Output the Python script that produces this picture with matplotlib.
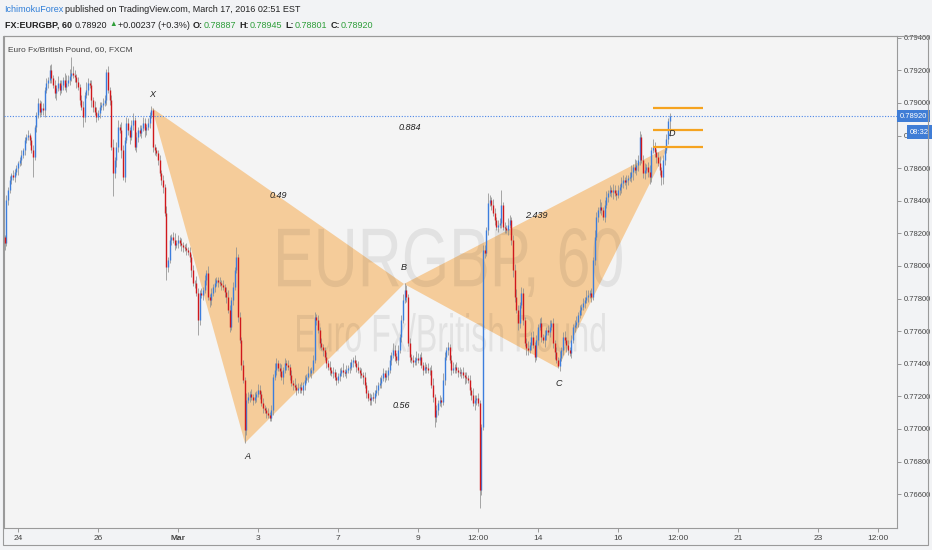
import matplotlib
matplotlib.use("Agg")
import matplotlib.pyplot as plt
import numpy as np
from matplotlib.patches import Polygon, Rectangle, PathPatch
from matplotlib.textpath import TextPath
from matplotlib.font_manager import FontProperties
from matplotlib.transforms import Affine2D
from matplotlib.ticker import FormatStrFormatter

plt.rcParams['font.family'] = ['Liberation Sans', 'DejaVu Sans']

W, H = 932, 550

# hourly bars, t = trading hours since Feb 24 00:00
first_bar = -8
first_open = 78180   # 1e-5 units
closes = [
    78141, 78405, 78466, 78530, 78560, 78545, 78577, 78600, 78632, 78650, 78680, 78712, 78773, 78791, 78804, 78773, 78712, 78669, 78853, 78926,
    79000, 78945, 78970, 78957, 79080, 79123, 79141, 79202, 79153, 79110, 79061, 79092, 79123, 79080, 79110, 79141, 79098, 79123, 79141, 79166,
    79184, 79172, 79160, 79129, 79098, 79018, 78975, 78914, 79049, 79080, 79123, 79110, 79018, 78975, 78945, 78914, 78939, 78975, 78988, 79000,
    79018, 79190, 79080, 79018, 78730, 78571, 78650, 78730, 78853, 78834, 78712, 78546, 78773, 78877, 78834, 78791, 78865, 78896, 78730, 78791,
    78834, 78816, 78847, 78877, 78834, 78853, 78877, 78926, 78960, 78730, 78712, 78693, 78650, 78571, 78528, 78485, 78325, 77994, 78037, 78160,
    78178, 78160, 78129, 78141, 78160, 78141, 78129, 78117, 78110, 78098, 78086, 78055, 77975, 77896, 77896, 77834, 77669, 77834, 77822, 77853,
    77914, 77957, 77810, 77791, 77834, 77871, 77896, 77914, 77902, 77896, 77883, 77871, 77840, 77810, 77730, 77626, 77791, 77871, 77975, 78055,
    77687, 77546, 77393, 77301, 76994, 77178, 77196, 77215, 77196, 77178, 77196, 77215, 77239, 77215, 77159, 77129, 77117, 77098, 77086, 77067,
    77117, 77319, 77362, 77405, 77374, 77356, 77319, 77362, 77405, 77393, 77380, 77331, 77282, 77270, 77258, 77239, 77252, 77258, 77239, 77270,
    77301, 77319, 77344, 77344, 77362, 77423, 77687, 77669, 77607, 77528, 77503, 77485, 77442, 77405, 77380, 77362, 77344, 77350, 77319, 77301,
    77325, 77344, 77362, 77350, 77344, 77362, 77374, 77380, 77411, 77423, 77405, 77380, 77362, 77344, 77331, 77319, 77270, 77221, 77190, 77178,
    77196, 77190, 77221, 77239, 77270, 77282, 77313, 77344, 77319, 77331, 77362, 77423, 77454, 77485, 77448, 77423, 77485, 77564, 77669, 77791,
    77853, 77810, 77528, 77442, 77423, 77411, 77423, 77436, 77423, 77442, 77393, 77362, 77380, 77374, 77362, 77362, 77270, 77196, 77074, 77117,
    77159, 77178, 77166, 77301, 77442, 77485, 77503, 77423, 77362, 77374, 77380, 77362, 77350, 77344, 77350, 77331, 77319, 77313, 77301, 77239,
    77209, 77159, 77178, 77190, 77159, 76626, 77012, 78098, 78080, 78221, 78387, 78405, 78374, 78325, 78282, 78239, 78252, 78264, 78374, 78239,
    78233, 78221, 78252, 78282, 78160, 77975, 77810, 77730, 77650, 77761, 77834, 77669, 77528, 77497, 77485, 77515, 77564, 77515, 77442, 77546,
    77626, 77650, 77564, 77546, 77577, 77607, 77595, 77626, 77650, 77528, 77472, 77423, 77386, 77436, 77485, 77564, 77546, 77515, 77485, 77466,
    77546, 77626, 77638, 77656, 77699, 77730, 77748, 77773, 77791, 77810, 77822, 77834, 77810, 78037, 78178, 78301, 78344, 78362, 78344, 78301,
    78374, 78423, 78448, 78466, 78454, 78466, 78448, 78436, 78466, 78485, 78509, 78528, 78515, 78528, 78540, 78546, 78577, 78607, 78589, 78620,
    78650, 78791, 78650, 78571, 78589, 78607, 78577, 78546, 78712, 78730, 78699, 78669, 78632, 78589, 78546, 78650, 78712, 78780, 78887, 78920,
]
# wick length above / below the body, in pips
wick_up = [
    1, 3, 2, 2, 1, 3, 2, 2, 1, 2, 3, 1, 2, 2, 3, 1, 2, 3, 1, 2,
    3, 2, 4, 3, 2, 3, 2, 3, 4, 2, 3, 2, 4, 2, 3, 2, 4, 5, 3, 4,
    10, 4, 3, 2, 3, 2, 3, 4, 2, 5, 3, 2, 3, 2, 4, 3, 2, 3, 2, 3,
    3, 2, 4, 2, 3, 5, 2, 3, 4, 2, 5, 3, 2, 4, 3, 2, 3, 4, 2, 3,
    2, 3, 2, 4, 3, 2, 3, 2, 2, 1, 2, 2, 2, 3, 2, 3, 2, 4, 2, 3,
    2, 3, 4, 2, 3, 2, 3, 2, 2, 3, 2, 3, 2, 3, 2, 4, 3, 2, 3, 2,
    3, 2, 4, 2, 3, 2, 3, 2, 2, 3, 2, 3, 2, 3, 4, 3, 2, 3, 2, 6,
    2, 3, 2, 3, 2, 4, 3, 2, 3, 2, 3, 2, 4, 3, 2, 3, 2, 2, 3, 2,
    3, 2, 4, 3, 2, 3, 4, 2, 3, 2, 3, 2, 3, 2, 4, 2, 3, 2, 3, 2,
    3, 2, 4, 3, 2, 3, 3, 2, 3, 2, 3, 2, 2, 3, 2, 4, 2, 3, 2, 3,
    2, 3, 2, 4, 2, 3, 2, 3, 2, 2, 3, 2, 4, 2, 3, 2, 3, 2, 2, 3,
    2, 3, 2, 3, 2, 4, 2, 3, 2, 3, 2, 3, 2, 4, 3, 2, 3, 2, 3, 4,
    4, 3, 2, 3, 2, 3, 2, 4, 3, 2, 3, 2, 3, 2, 3, 2, 3, 4, 2, 3,
    2, 3, 2, 4, 3, 2, 3, 2, 3, 4, 2, 3, 2, 3, 2, 3, 2, 3, 2, 3,
    2, 4, 3, 2, 3, 2, 2, 3, 3, 2, 6, 3, 2, 4, 3, 2, 3, 3, 9, 2,
    3, 2, 4, 3, 2, 3, 4, 5, 3, 2, 4, 3, 2, 3, 4, 2, 3, 4, 2, 3,
    2, 3, 4, 2, 3, 2, 3, 4, 2, 3, 2, 3, 2, 4, 2, 3, 4, 2, 3, 2,
    3, 2, 3, 4, 2, 3, 2, 3, 2, 4, 3, 2, 3, 2, 4, 3, 2, 5, 3, 2,
    3, 4, 2, 3, 2, 4, 3, 2, 3, 2, 4, 3, 2, 3, 2, 3, 4, 2, 5, 3,
    3, 4, 2, 3, 4, 2, 3, 4, 2, 5, 3, 2, 3, 4, 2, 3, 2, 3, 2, 2,
]
wick_dn = [
    4, 2, 3, 2, 3, 2, 3, 2, 4, 2, 3, 2, 3, 2, 2, 3, 2, 12, 2, 3,
    2, 3, 2, 3, 4, 2, 3, 2, 3, 2, 3, 4, 2, 3, 2, 3, 2, 3, 2, 3,
    3, 2, 3, 4, 2, 3, 2, 6, 3, 2, 3, 2, 4, 3, 2, 3, 2, 3, 2, 3,
    2, 3, 2, 3, 2, 14, 3, 4, 3, 2, 5, 2, 3, 2, 3, 4, 2, 3, 2, 3,
    3, 2, 3, 2, 4, 3, 2, 3, 2, 3, 3, 2, 3, 2, 3, 4, 2, 8, 3, 2,
    3, 2, 3, 2, 3, 2, 4, 3, 2, 3, 2, 3, 4, 2, 3, 2, 9, 3, 2, 3,
    2, 3, 2, 4, 3, 2, 3, 2, 3, 2, 3, 2, 3, 4, 2, 3, 2, 3, 2, 2,
    3, 2, 3, 2, 8, 3, 2, 3, 2, 3, 2, 3, 2, 3, 2, 3, 2, 3, 2, 2,
    2, 3, 2, 3, 2, 3, 2, 4, 2, 3, 2, 3, 2, 3, 2, 3, 2, 3, 2, 3,
    3, 2, 3, 2, 3, 2, 2, 3, 2, 3, 2, 4, 2, 3, 2, 3, 2, 3, 2, 3,
    2, 3, 2, 3, 2, 3, 2, 3, 2, 3, 2, 3, 2, 3, 2, 4, 2, 3, 2, 3,
    3, 2, 3, 2, 3, 2, 3, 2, 3, 2, 3, 2, 3, 2, 3, 2, 3, 2, 3, 2,
    2, 3, 2, 3, 2, 3, 2, 3, 2, 3, 2, 3, 2, 3, 2, 3, 2, 3, 6, 3,
    3, 2, 3, 2, 3, 2, 3, 2, 3, 2, 3, 2, 3, 2, 3, 2, 4, 3, 2, 3,
    3, 2, 4, 3, 2, 11, 3, 2, 3, 2, 3, 2, 3, 2, 3, 2, 3, 2, 3, 2,
    3, 2, 3, 2, 3, 4, 3, 2, 4, 3, 2, 3, 2, 4, 3, 2, 3, 2, 3, 2,
    3, 2, 3, 2, 4, 3, 2, 3, 2, 3, 4, 2, 1, 3, 2, 3, 2, 4, 3, 2,
    3, 2, 3, 2, 3, 2, 3, 2, 3, 2, 3, 2, 3, 2, 3, 2, 3, 2, 3, 2,
    3, 2, 3, 2, 3, 4, 2, 3, 2, 3, 4, 3, 2, 4, 3, 2, 3, 5, 2, 3,
    4, 3, 2, 3, 4, 2, 3, 4, 3, 2, 3, 4, 2, 3, 5, 4, 3, 2, 3, 9,
]

# harmonic pattern points (bar index, price)
pattern_names = ['X', 'A', 'B', 'C', 'D']
pattern_t = [80.4, 136.2, 231.6, 324.0, 390.0]
pattern_price = [0.78969, 0.76914, 0.77890, 0.77374, 0.78730]
ratio_legs = [(0, 2), (1, 3), (2, 4), (0, 4)]
ratio_text = ['0.49', '0.56', '2.439', '0.884']
prz_levels = [0.78969, 0.78834, 0.78730]
prz_t = (381, 411)

last_price = 0.78920
countdown = '08:32'

tick_t = [0, 48, 96, 144, 192, 240, 276, 312, 360, 396, 432, 480, 516]
tick_lab = ['24', '26', 'Mar', '3', '7', '9', '12:00', '14', '16', '12:00', '21', '23', '12:00']
price_ticks = [0.766, 0.768, 0.770, 0.772, 0.774, 0.776, 0.778, 0.780,
               0.782, 0.784, 0.786, 0.788, 0.790, 0.792, 0.794]

fig = plt.figure(figsize=(W / 100, H / 100), dpi=100, facecolor='#f2f3f5')
ax = fig.add_axes([4 / W, 1 - 528 / H, 893 / W, 492 / H], facecolor='#f4f4f4')

# triangles
tri1 = [(pattern_t[i], pattern_price[i]) for i in (0, 1, 2)]
tri2 = [(pattern_t[i], pattern_price[i]) for i in (2, 3, 4)]
for tri in (tri1, tri2):
    ax.add_patch(Polygon(tri, closed=True, fc='#f6b25f', alpha=0.6, lw=0, zorder=1))


# watermark, stretched into its box (pixel coords)
def stamp(s, x0, y0, x1, y1):
    tp = TextPath((0, 0), s, size=100, prop=FontProperties(family=['Liberation Sans', 'DejaVu Sans']))
    bb = tp.get_extents()
    tr = Affine2D().translate(-bb.x0, -bb.y0).scale((x1 - x0) / bb.width / W, (y1 - y0) / bb.height / H)
    tr = tr.translate(x0 / W, 1 - y1 / H)
    ax.add_artist(PathPatch(tp, transform=tr + fig.transFigure, fc='#000000', alpha=0.07, lw=0, zorder=2))


stamp('EURGBP, 60', 278, 228, 622, 297)
stamp('Euro Fx/British Pound', 297, 313, 605, 352)

ax.axhline(last_price, color='#4a86e8', lw=0.8, ls=(0, (1, 1.5)), zorder=3)

# candles
c = np.array(closes) / 1e5
o = np.concatenate([[first_open / 1e5], c[:-1]])
hi = np.maximum(o, c) + np.array(wick_up) / 1e4
lo = np.minimum(o, c) - np.array(wick_dn) / 1e4
t = np.arange(len(c)) + first_bar
up = c >= o
ax.vlines(t, lo, hi, color='#8f8f8f', lw=0.55, zorder=4)
ax.vlines(t[up], o[up], c[up], color='#3b7ddd', lw=1.0, zorder=5)
ax.vlines(t[~up], o[~up], c[~up], color='#d0181c', lw=1.0, zorder=5)

ax.hlines(prz_levels, prz_t[0], prz_t[1], color='#f5a31f', lw=1.6, zorder=6)

# pattern labels
offsets = [(0, 9.5), (1.5, -10), (0, 11.5), (0.7, -11), (3, 10)]
for name, tt, pp, off in zip(pattern_names, pattern_t, pattern_price, offsets):
    ax.annotate(name, (tt, pp), xytext=off, textcoords='offset points', ha='center', va='center',
                fontsize=6.5, style='italic', color='#222', zorder=7)
for (a, b), s in zip(ratio_legs, ratio_text):
    mt = (pattern_t[a] + pattern_t[b]) / 2
    mp = (pattern_price[a] + pattern_price[b]) / 2
    ax.text(mt, mp, s, ha='center', va='center', fontsize=6.5, style='italic', color='#222', zorder=7)

ax.set_xlim(-8.4, 527.4)
ax.set_ylim(0.763926, 0.794110)

ax.set_xticks(tick_t)
ax.set_xticklabels(tick_lab)
for lab in ax.get_xticklabels():
    if lab.get_text() == 'Mar':
        lab.set_fontweight('bold')
ax.tick_params(axis='x', length=3, width=0.6, color='#888', labelsize=6, labelcolor='#444', pad=2)
ax.yaxis.tick_right()
ax.set_yticks(price_ticks)
ax.yaxis.set_major_formatter(FormatStrFormatter('%.5f'))
ax.tick_params(axis='y', length=3, width=0.6, color='#888', labelsize=5.5, labelcolor='#444', pad=1.5)
for sp in ax.spines.values():
    sp.set_color('#9a9a9a')
    sp.set_linewidth(0.8)

# last price / countdown boxes on the price scale
ax.annotate(f'{last_price:.5f}', (1.0, last_price), xycoords=('axes fraction', 'data'), xytext=(2.2, 0),
            textcoords='offset points', ha='left', va='center', fontsize=5.5, color='white',
            bbox=dict(boxstyle='square,pad=0.35', fc='#3f7dd6', ec='none'), annotation_clip=False, zorder=8)
ax.annotate(countdown, (1.0, last_price), xycoords=('axes fraction', 'data'), xytext=(9.5, -11.5),
            textcoords='offset points', ha='left', va='center', fontsize=5.5, color='white',
            bbox=dict(boxstyle='square,pad=0.4', fc='#3f7dd6', ec='none'), annotation_clip=False, zorder=8)

fig.add_artist(Rectangle((3 / W, 1 - 545 / H), 925 / W, 509 / H, transform=fig.transFigure,
                         fill=False, ec='#9a9a9a', lw=0.8))

fig.text(8 / W, 1 - 50 / H, 'Euro Fx/British Pound, 60, FXCM', fontsize=6, color='#444', va='center')

# header, written piece by piece
green = '#2e9e3a'
dark = '#222222'
renderer = fig.canvas.get_renderer()


def header_line(x, y, pieces):
    for s, col, weight, size, gap in pieces:
        txt = fig.text(x / W, 1 - y / H, s, va='center', ha='left', fontsize=size, color=col, fontweight=weight)
        bb = txt.get_window_extent(renderer=renderer)
        x = x + bb.width + gap


header_line(4, 10, [
    ('IchimokuForex', '#2f7ed8', 'normal', 6.5, 2),
    ('published on TradingView.com, March 17, 2016 02:51 EST', dark, 'normal', 6.5, 0),
])
header_line(5, 25, [
    ('FX:EURGBP, 60', dark, 'bold', 6.5, 3),
    ('0.78920', dark, 'normal', 6.5, 2),
    ('▲', green, 'normal', 5.5, 1),
    ('+0.00237 (+0.3%)', dark, 'normal', 6.5, 3),
    ('O:', dark, 'bold', 6.5, 1),
    ('0.78887', green, 'normal', 6.5, 3),
    ('H:', dark, 'bold', 6.5, 1),
    ('0.78945', green, 'normal', 6.5, 3),
    ('L:', dark, 'bold', 6.5, 1),
    ('0.78801', green, 'normal', 6.5, 3),
    ('C:', dark, 'bold', 6.5, 1),
    ('0.78920', green, 'normal', 6.5, 0),
])

plt.savefig('out.png', dpi=100, facecolor=fig.get_facecolor())
